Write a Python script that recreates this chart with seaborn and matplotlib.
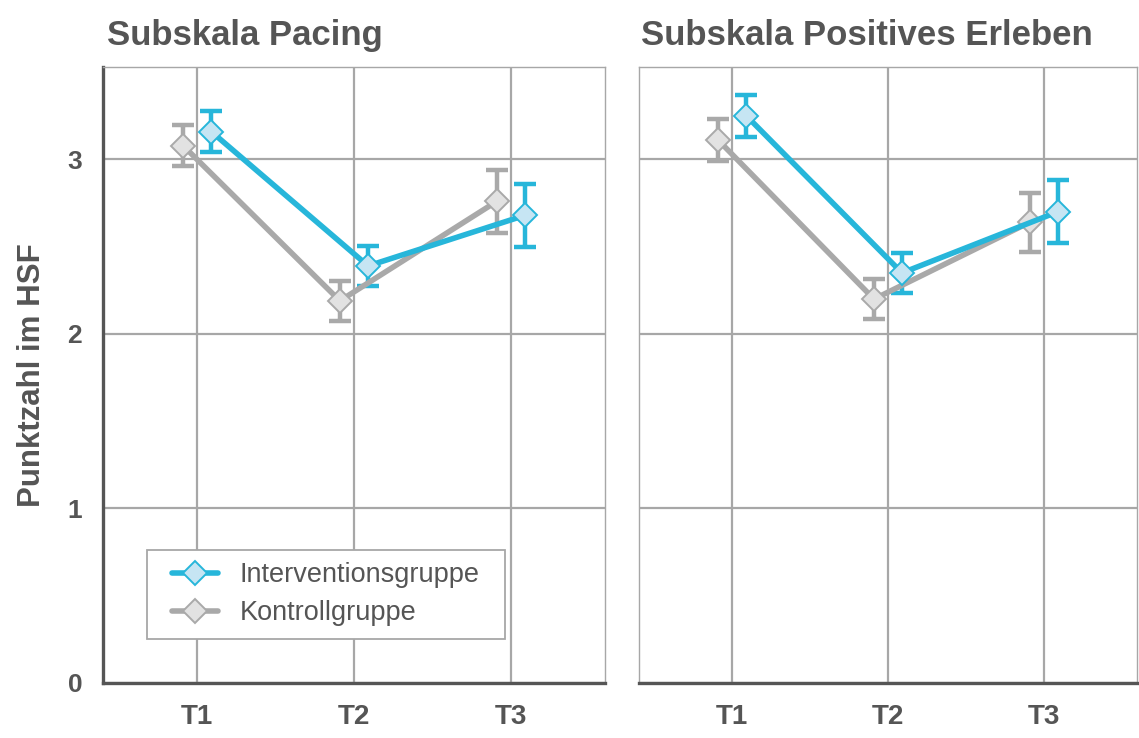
import numpy as np
import pandas as pd
import matplotlib
matplotlib.use("Agg")
import matplotlib.pyplot as plt
from matplotlib.lines import Line2D
from matplotlib.patches import Rectangle
import seaborn as sns

sns.set_style("white")
plt.rcParams['font.family'] = ['Liberation Sans', 'DejaVu Sans']

# data (mean and half-width of error bar)
zeitpunkte = ["T1", "T2", "T3"]
gruppen = ["Kontrollgruppe", "Interventionsgruppe"]
titel = ["Subskala Pacing", "Subskala Positives Erleben"]

pacing_iv = [3.16, 2.39, 2.68]
pacing_iv_err = [0.115, 0.115, 0.18]
pacing_kg = [3.08, 2.19, 2.76]
pacing_kg_err = [0.12, 0.115, 0.18]

erleben_iv = [3.25, 2.35, 2.70]
erleben_iv_err = [0.12, 0.115, 0.18]
erleben_kg = [3.11, 2.20, 2.64]
erleben_kg_err = [0.12, 0.115, 0.17]

blau = "#27b6da"
blau_hell = "#c6e5f3"
grau = "#a9a9a9"
grau_hell = "#e2e2e2"
dunkel = "#555555"
gitter = "#a7a7a7"
palette = {"Interventionsgruppe": blau, "Kontrollgruppe": grau}
face = {blau: blau_hell, grau: grau_hell}


def long_table(iv, iv_err, kg, kg_err):
	# two rows per point (lower/upper end), so mean = center and min/max = bar
	rows = []
	for g, m, e in [("Kontrollgruppe", kg, kg_err), ("Interventionsgruppe", iv, iv_err)]:
		for t, mi, ei in zip(zeitpunkte, m, e):
			rows.append((g, t, mi - ei))
			rows.append((g, t, mi + ei))
	return pd.DataFrame(rows, columns=["Gruppe", "Zeit", "Wert"])


daten = [long_table(pacing_iv, pacing_iv_err, pacing_kg, pacing_kg_err),
		long_table(erleben_iv, erleben_iv_err, erleben_kg, erleben_kg_err)]

fig = plt.figure(figsize=(11.39, 7.38), dpi=100)
ax1 = fig.add_axes([103/1139, 55/738, 502/1139, 616/738])
ax2 = fig.add_axes([639/1139, 55/738, 498/1139, 616/738])

for i, (ax, df) in enumerate(zip([ax1, ax2], daten)):
	sns.pointplot(data=df, x="Zeit", y="Wert", hue="Gruppe", order=zeitpunkte,
			hue_order=gruppen, palette=palette, dodge=0.18, markers="D",
			estimator="mean", errorbar=("pi", 100), capsize=0.14,
			err_kws={"linewidth": 3.2}, linewidth=4, markersize=12,
			legend=False, ax=ax)
	for ln in ax.lines:
		if ln.get_marker() == "D":
			c = matplotlib.colors.to_hex(ln.get_color())
			ln.set_markerfacecolor(face.get(c, "white"))
			ln.set_markeredgecolor(c)
			ln.set_markeredgewidth(1.4)
			ln.set_zorder(5)
		else:
			ln.set_zorder(4)
			ln.set_solid_capstyle("butt")

	ax.set_xlim(-0.6, 2.6)
	ax.set_ylim(0, 3.53)
	ax.set_yticks([0, 1, 2, 3])
	ax.set_xlabel("")
	ax.set_ylabel("")
	ax.grid(True, color=gitter, linewidth=1.6)
	ax.set_axisbelow(True)
	ax.set_title(titel[i], loc="left", fontsize=25, fontweight="bold",
			color=dunkel, pad=16, x=0.008 if i == 0 else 0.004)
	for s in ["top", "right", "left"]:
		ax.spines[s].set_color(gitter)
		ax.spines[s].set_linewidth(1.0)
	ax.spines["bottom"].set_color(dunkel)
	ax.spines["bottom"].set_linewidth(2.4)
	ax.tick_params(axis="x", colors=gitter, width=1.6, length=11, pad=4,
			labelcolor=dunkel, labelsize=20)
	for lab in ax.get_xticklabels():
		lab.set_fontweight("bold")

ax1.spines["left"].set_color(dunkel)
ax1.spines["left"].set_linewidth(2.4)
ax1.tick_params(axis="y", colors=dunkel, width=2.2, length=7, pad=8, labelsize=19)
for lab in ax1.get_yticklabels():
	lab.set_fontweight("bold")
ax1.set_ylabel("Punktzahl im HSF", fontsize=22.5, fontweight="bold", color=dunkel,
		labelpad=15)

ax2.tick_params(axis="y", length=0, labelleft=False)

# legend: frame drawn as its own box, entries placed inside it
ax1.add_patch(Rectangle((0.0876, 0.0714), 0.714, 0.145, transform=ax1.transAxes,
		facecolor="white", edgecolor=gitter, linewidth=1.3, zorder=6))
handles = [Line2D([], [], color=blau, lw=4, marker="D", markersize=12,
				markerfacecolor=blau_hell, markeredgecolor=blau, markeredgewidth=1.4),
		Line2D([], [], color=grau, lw=4, marker="D", markersize=12,
				markerfacecolor=grau_hell, markeredgecolor=grau, markeredgewidth=1.4)]
leg = ax1.legend(handles, ["Interventionsgruppe", "Kontrollgruppe"],
		loc="upper left", bbox_to_anchor=(0.1375, 0.196), fontsize=19.5,
		frameon=False, borderpad=0, handlelength=1.7, handletextpad=0.8,
		labelspacing=0.45, borderaxespad=0)
leg.set_zorder(7)
for t in leg.get_texts():
	t.set_color(dunkel)

fig.savefig("out.png", dpi=100)
